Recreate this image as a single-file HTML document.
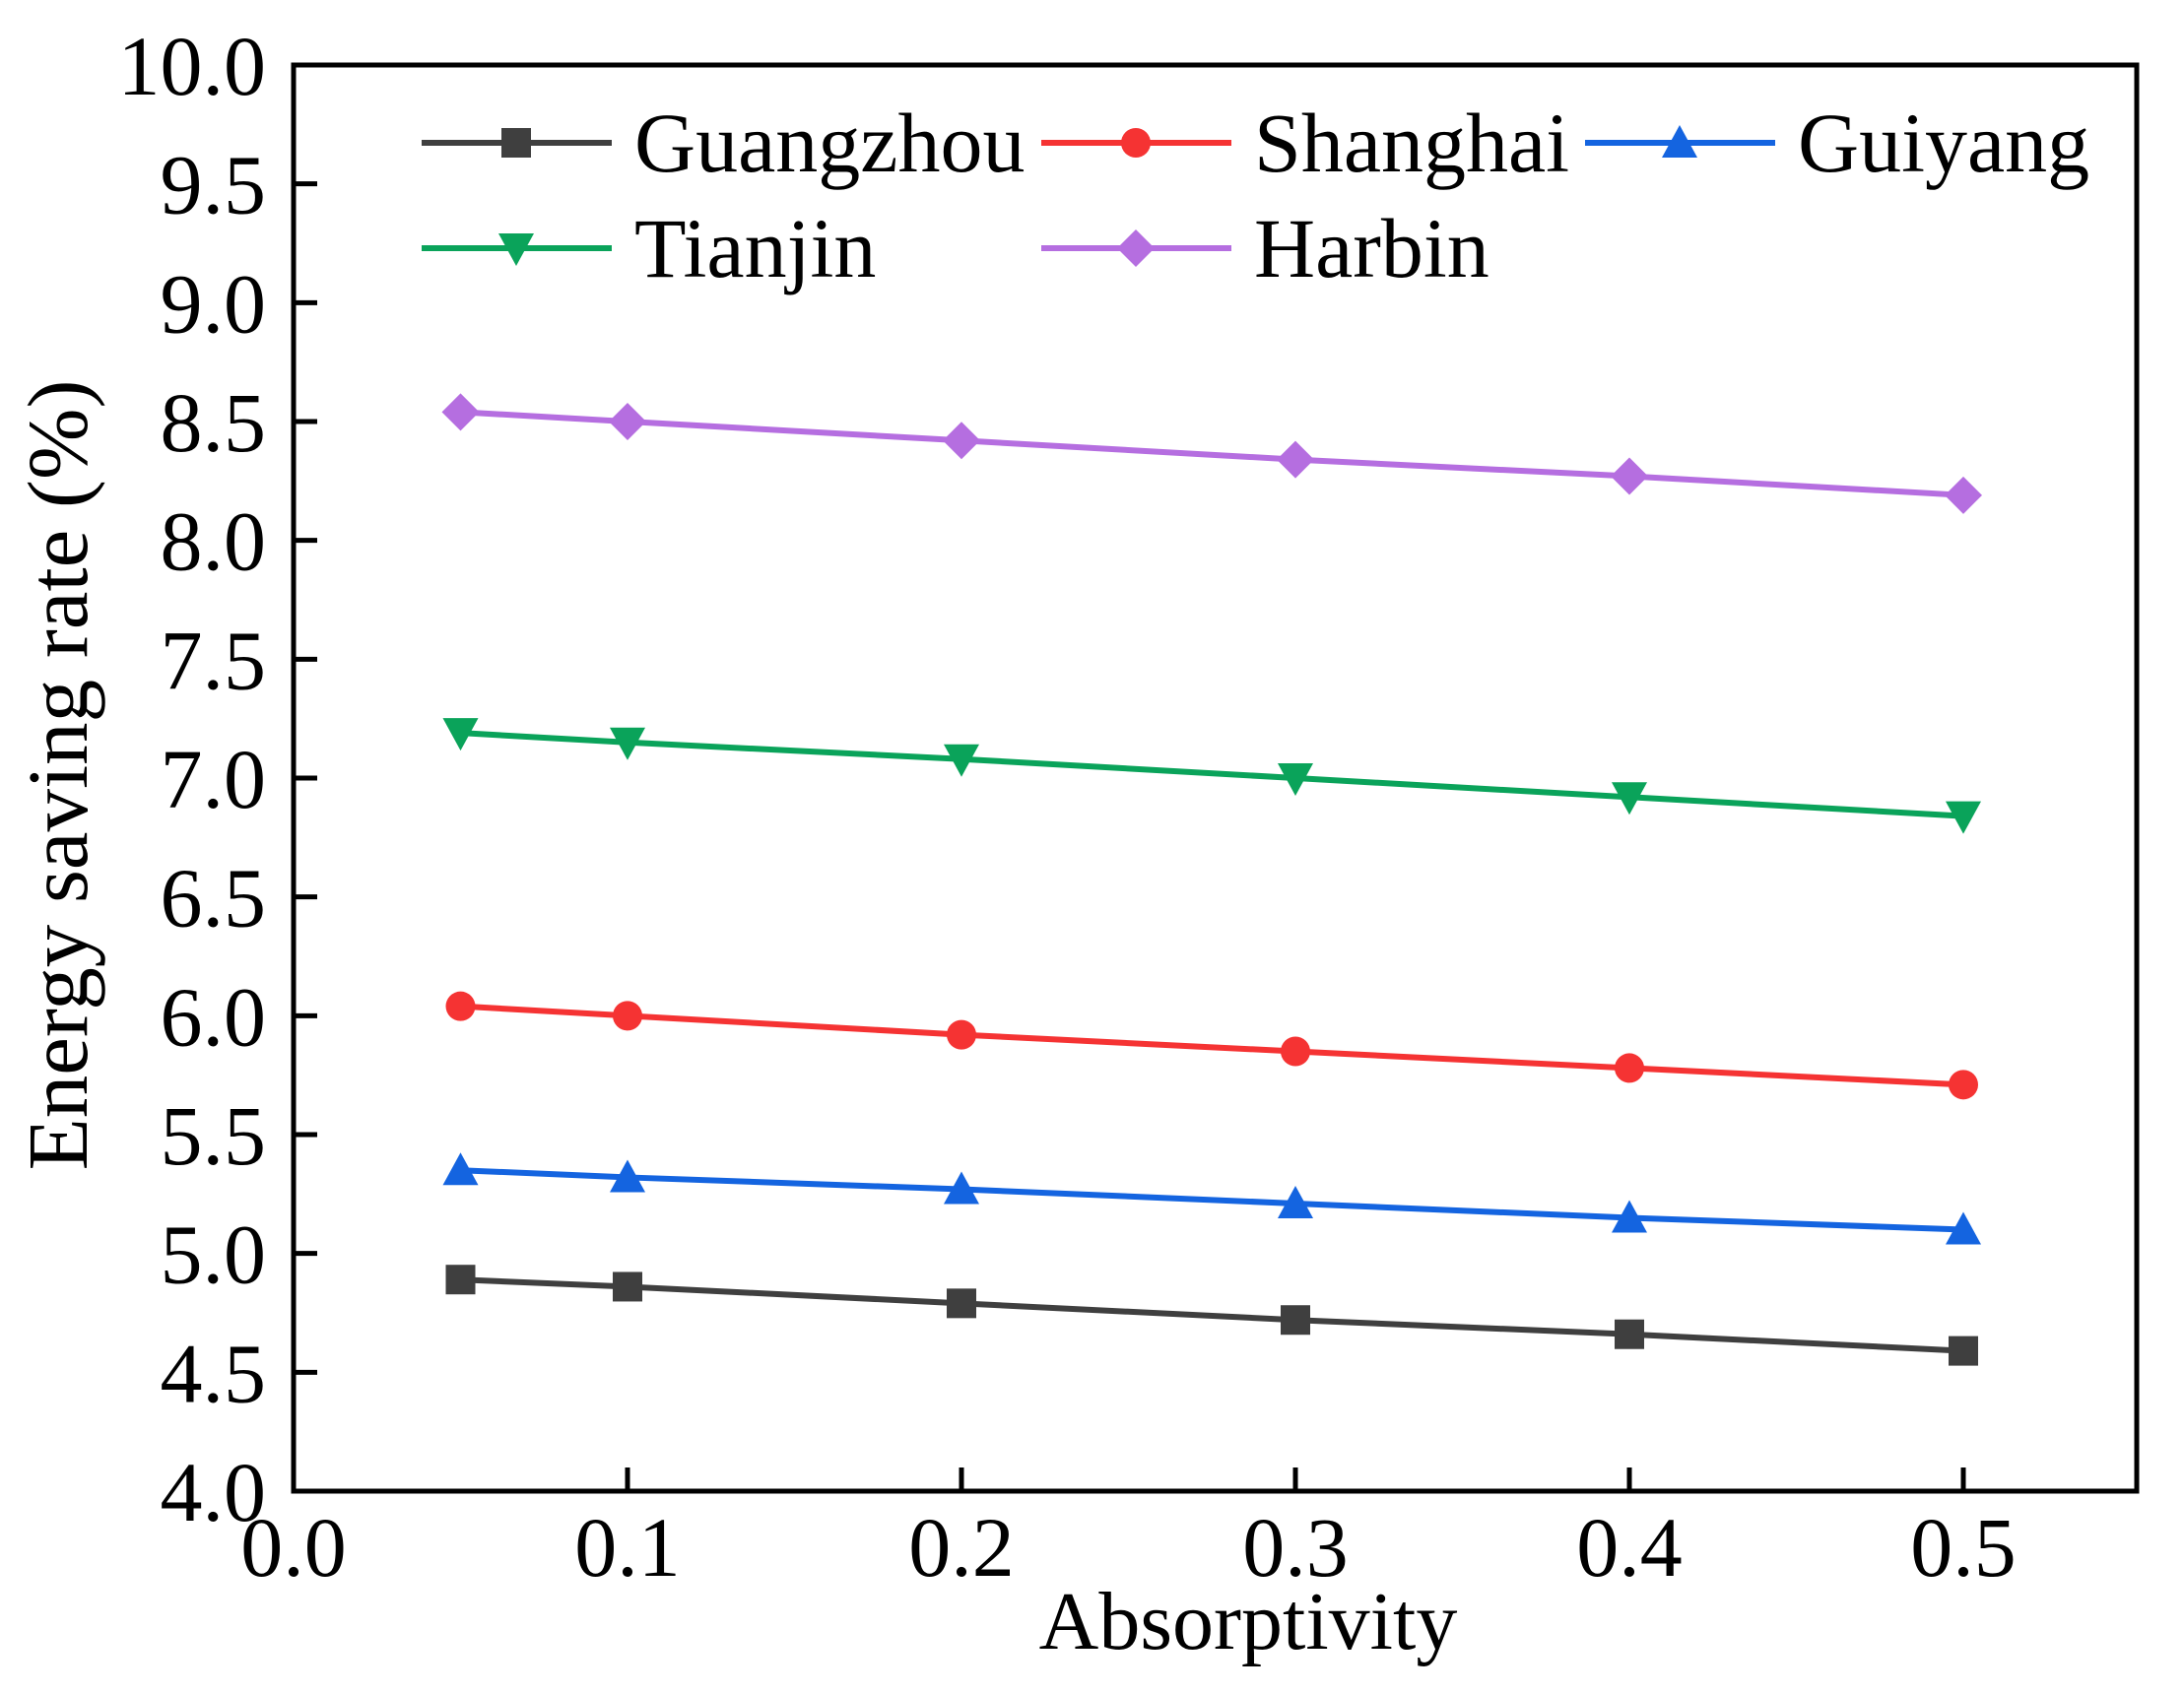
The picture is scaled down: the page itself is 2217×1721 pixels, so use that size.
<!DOCTYPE html>
<html><head><meta charset="utf-8"><style>
body{margin:0;background:#fff}
svg text{font-family:"Liberation Serif",serif;fill:#000}
</style></head><body>
<svg id="chart" width="2217" height="1716" viewBox="0 0 2217 1716" xmlns="http://www.w3.org/2000/svg">
<g id="axes"></g>
<g id="series"></g>
<g id="legend"></g>
</svg>
<script>
const xs = [0.05, 0.1, 0.2, 0.3, 0.4, 0.5];
const names = ["Guangzhou","Shanghai","Guiyang","Tianjin","Harbin"];
const guangzhou = [4.89, 4.86, 4.79, 4.72, 4.66, 4.59];
const shanghai = [6.04, 6.00, 5.92, 5.85, 5.78, 5.71];
const guiyang = [5.35, 5.32, 5.27, 5.21, 5.15, 5.10];
const tianjin = [7.19, 7.15, 7.08, 7.00, 6.92, 6.84];
const harbin = [8.54, 8.50, 8.42, 8.34, 8.27, 8.19];
const xTicks = ["0.0","0.1","0.2","0.3","0.4","0.5"];
const yTicks = ["4.0","4.5","5.0","5.5","6.0","6.5","7.0","7.5","8.0","8.5","9.0","9.5","10.0"];

const NS="http://www.w3.org/2000/svg";
const L=298,R=2169,T=66,B=1514;
const X=v=>L+v*(339*10);
const Y=v=>B-(v-4)*(B-T)/6;
function mk(tag,attrs,parent){const e=document.createElementNS(NS,tag);for(const k in attrs)e.setAttribute(k,attrs[k]);parent.appendChild(e);return e;}
const ax=document.getElementById('axes');
let fr=mk('rect',{x:L,y:T,width:R-L,height:B-T,fill:'none',stroke:'#000','stroke-width':5},ax);


xTicks.forEach(t=>{const v=parseFloat(t);const x=X(v);
 let l=mk('line',{x1:x,y1:B,x2:x,y2:B-24,stroke:'#000','stroke-width':5},ax);
 
 
 let tx=mk('text',{x:x,y:1600,'font-size':86,'text-anchor':'middle'},ax);tx.textContent=t;
 
 
});
yTicks.forEach(t=>{const v=parseFloat(t);const y=Y(v);
 let l=mk('line',{x1:L,y1:y,x2:L+24,y2:y,stroke:'#000','stroke-width':5},ax);
 
 
 let tx=mk('text',{x:270,y:y+30,'font-size':86,'text-anchor':'end'},ax);tx.textContent=t;
 
 
});
let xt=mk('text',{x:1267,y:1674,'font-size':84,'text-anchor':'middle'},ax);xt.textContent='Absorptivity';


let yt=mk('text',{x:0,y:0,'font-size':87,'text-anchor':'middle',transform:'translate(88,787) rotate(-90)'},ax);yt.textContent='Energy saving rate  (%)';
yt.setAttribute('xml:space','preserve');



const colors=['#3f3f3f','#f53333','#1464e0','#0aa35a','#b56ee0'];
const shapes=['square','circle','up','down','diamond'];
const data=[guangzhou,shanghai,guiyang,tianjin,harbin];
function marker(shape,x,y,c,p){const s=15;let e;
 if(shape==='square')e=mk('rect',{x:x-s,y:y-s,width:2*s,height:2*s,fill:c},p);
 else if(shape==='circle')e=mk('circle',{cx:x,cy:y,r:s,fill:c},p);
 else if(shape==='up')e=mk('polygon',{points:`${x},${y-s-3} ${x-s-3},${y+s} ${x+s+3},${y+s}`,fill:c},p);
 else if(shape==='down')e=mk('polygon',{points:`${x},${y+s+3} ${x-s-3},${y-s} ${x+s+3},${y-s}`,fill:c},p);
 else e=mk('polygon',{points:`${x},${y-s-4} ${x+s+4},${y} ${x},${y+s+4} ${x-s-4},${y}`,fill:c},p);
 return e;}
const sg=document.getElementById('series');
data.forEach((arr,i)=>{
 const g=mk('g',{},sg);
 
 
 let pl=mk('polyline',{points:arr.map((v,j)=>X(xs[j])+','+Y(v)).join(' '),fill:'none',stroke:colors[i],'stroke-width':6},g);
 
 
 arr.forEach((v,j)=>{const m=marker(shapes[i],X(xs[j]),Y(v),colors[i],g);
  
  });
});
const lg=document.getElementById('legend');
const lpos=[[428,145],[1057,145],[1609,145],[428,252],[1057,252]];
lpos.forEach((p,i)=>{const g=mk('g',{},lg);
 
 
 mk('line',{x1:p[0],y1:p[1],x2:p[0]+193,y2:p[1],stroke:colors[i],'stroke-width':6},g);
 marker(shapes[i],p[0]+96,p[1],colors[i],g);
 let t=mk('text',{x:p[0]+216,y:p[1]+29,'font-size':86},g);t.textContent=names[i];
});
</script>
</body></html>
